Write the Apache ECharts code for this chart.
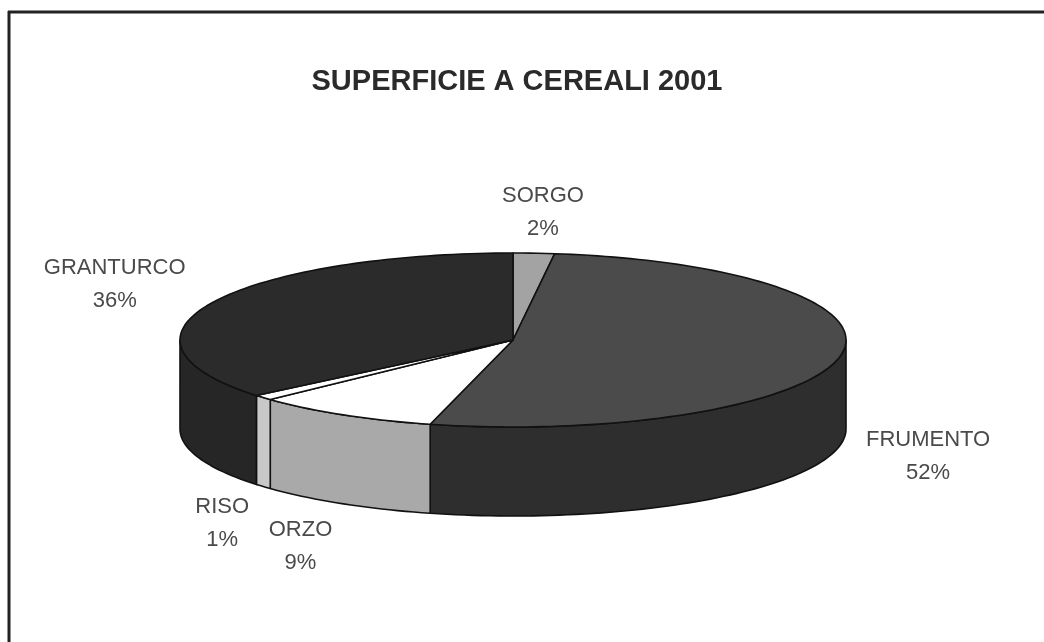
<!DOCTYPE html>
<html>
<head>
<meta charset="utf-8">
<script src="https://cdn.jsdelivr.net/npm/echarts@6/dist/echarts.min.js"></script>
<style>
html,body{margin:0;padding:0;background:#fff;}
#chart{width:1044px;height:642px;}
</style>
</head>
<body>
<div id="chart"></div>
<script>
// ---- data ----
var categories = ['SORGO', 'FRUMENTO', 'ORZO', 'RISO', 'GRANTURCO'];
var values = [2, 52, 9, 1, 36];
var topColors = ['#a3a3a3', '#4b4b4b', '#ffffff', '#ffffff', '#2b2b2b'];
var sideColors = ['#8e8e8e', '#2e2e2e', '#a9a9a9', '#c8c8c8', '#262626'];
var titleText = 'SUPERFICIE A CEREALI 2001';

// ---- layout (geometry of the tilted pie) ----
var geo = { cx: 513, cy: 340, rx: 333, ry: 87, depth: 89 };
// label offsets relative to the slice's mid-angle point on the rim
var labelOffsets = [[9, -41], [88, 100], [-43, 132], [-41, 126], [-97, -19]];

var total = values.reduce(function (a, b) { return a + b; }, 0);
var starts = [];
var acc = 0;
for (var i = 0; i < values.length; i++) { starts.push(acc); acc += values[i]; }

function deg(v) { return v / total * 360; }
function pt(theta, dy) {
  var r = theta * Math.PI / 180;
  return [geo.cx + geo.rx * Math.sin(r), geo.cy - geo.ry * Math.cos(r) + (dy || 0)];
}
function arcPoints(a1, a2, dy) {
  var pts = [];
  var n = Math.max(2, Math.ceil(Math.abs(a2 - a1) / 1.5));
  for (var k = 0; k <= n; k++) pts.push(pt(a1 + (a2 - a1) * k / n, dy));
  return pts;
}

function renderSide(params, api) {
  var idx = params.dataIndex;
  var a1 = deg(starts[idx]);
  var a2 = a1 + deg(api.value(0));
  var s = Math.max(a1, 90), e = Math.min(a2, 270);
  if (e <= s) return null;
  var top = arcPoints(s, e, 0);
  var bottom = arcPoints(e, s, geo.depth);
  return {
    type: 'polygon',
    shape: { points: top.concat(bottom) },
    style: { fill: sideColors[idx], stroke: '#111', lineWidth: 1.6, lineJoin: 'round' }
  };
}

function renderTop(params, api) {
  var idx = params.dataIndex;
  var a1 = deg(starts[idx]);
  var a2 = a1 + deg(api.value(0));
  var pts = [[geo.cx, geo.cy]].concat(arcPoints(a1, a2, 0));
  var mid = (a1 + a2) / 2;
  var m = pt(mid, 0);
  var off = labelOffsets[idx];
  var pct = Math.round(api.value(0) / total * 100) + '%';
  return {
    type: 'group',
    children: [
      {
        type: 'polygon',
        shape: { points: pts },
        style: { fill: topColors[idx], stroke: '#111', lineWidth: 1.6, lineJoin: 'round' }
      },
      {
        type: 'text',
        x: m[0] + off[0],
        y: m[1] + off[1],
        style: {
          text: categories[idx] + '\n' + pct,
          fill: '#4a4a4a',
          font: '22px "Liberation Sans", Arial, sans-serif',
          lineHeight: 33,
          align: 'center',
          verticalAlign: 'middle'
        }
      }
    ]
  };
}

var chart = echarts.init(document.getElementById('chart'), null, { renderer: 'canvas' });
chart.setOption({
  backgroundColor: '#ffffff',
  animation: false,
  title: {
    text: titleText,
    left: 512,
    top: 62,
    textAlign: 'center',
    textStyle: {
      fontFamily: '"Liberation Sans", Arial, sans-serif',
      fontWeight: 'bold',
      fontSize: 29,
      color: '#2a2a2a'
    }
  },
  graphic: [
    { type: 'line', shape: { x1: 8, y1: 12, x2: 1044, y2: 12 }, style: { stroke: '#222', lineWidth: 3 } },
    { type: 'line', shape: { x1: 9, y1: 11, x2: 9, y2: 642 }, style: { stroke: '#222', lineWidth: 3 } }
  ],
  series: [
    {
      type: 'custom',
      coordinateSystem: 'none',
      z: 1,
      renderItem: renderSide,
      data: values.map(function (v) { return [v]; })
    },
    {
      type: 'custom',
      coordinateSystem: 'none',
      z: 2,
      renderItem: renderTop,
      data: values.map(function (v) { return [v]; })
    }
  ]
});
</script>
</body>
</html>
